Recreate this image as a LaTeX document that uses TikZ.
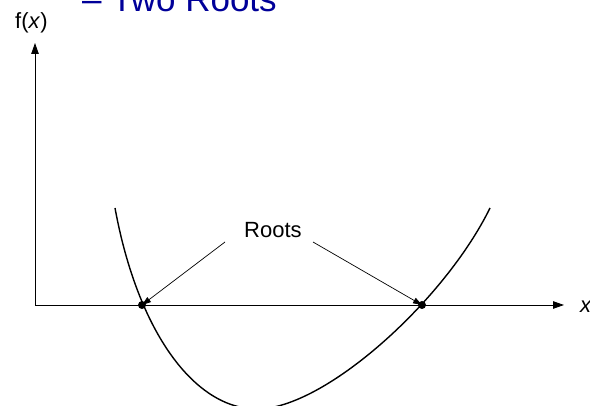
\documentclass[tikz,border=0pt]{standalone}
\usepackage{fontspec}
\setmainfont{Liberation Sans}
\usetikzlibrary{arrows.meta}
\definecolor{titleblue}{RGB}{0,0,153}
\tikzset{
  axis/.style={line width=0.9pt,-{Triangle[length=11pt,width=7.5pt]}},
  pointer/.style={line width=0.7pt,-{Triangle[length=9pt,width=6pt]}},
  lbl/.style={inner sep=0pt,anchor=base west,font=\fontsize{22}{26}\selectfont},
  rootdot/.style={circle,fill=black,inner sep=0pt,minimum size=8pt},
}
\begin{document}
\begin{tikzpicture}[x=1pt,y=-1pt]
\useasboundingbox (0,0) rectangle (590,406);
\begin{scope}
\clip (0,0) rectangle (590,406);
\node[lbl,font=\fontsize{35}{40}\selectfont,text=titleblue] (title) at (82,12) {– Two Roots};
\end{scope}
\node[lbl] (fx) at (15,29) {f(\textit{x})};
\node[lbl] (xl) at (580,313) {\textit{x}};
\coordinate (O) at (35,305);
\coordinate (ytip) at (35,43);
\coordinate (xtip) at (564,305);
\draw[axis] (O) -- (ytip);
\draw[axis] (O) -- (xtip);
\begin{scope}
\clip (0,0) rectangle (590,406);
\draw[line width=1.4pt] (115,208) .. controls (138,333) and (195,409) .. (257,409)
  .. controls (325,409) and (445,300) .. (490,208);
\end{scope}
\node[rootdot] (r1) at (142,305) {};
\node[rootdot] (r2) at (422,305) {};
\node[lbl] (roots) at (244,238) {Roots};
\coordinate (p1) at (225,242);
\coordinate (p2) at (313,242);
\draw[pointer] (p1) -- (r1.center);
\draw[pointer] (p2) -- (r2.center);
\end{tikzpicture}
\end{document}
